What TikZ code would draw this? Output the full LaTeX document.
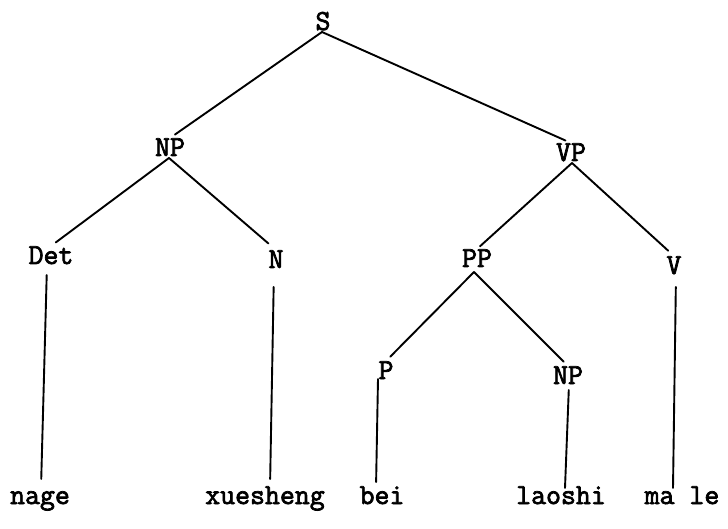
\documentclass[tikz,border=0pt]{standalone}
\usepackage{fontspec}
\newfontfamily\treefont{Latin Modern Mono}[FakeBold=2.5]
\begin{document}
\begin{tikzpicture}[x=1pt,y=-1pt,
  lab/.style={font=\treefont\fontsize{29}{32}\selectfont, inner sep=0pt, outer sep=0pt, anchor=base, text height=18pt, text depth=0pt},
  leaf/.style={lab, text height=16pt, text depth=6pt},
  branch/.style={line width=1.9pt, line cap=round, shorten >=6pt},
  stem/.style={line width=1.9pt, line cap=round}]
\useasboundingbox[fill=white] (0,0) rectangle (728,529);
% labels
\node[lab] (S)   at (323,30)  {S};
\node[lab] (NP)  at (170,156) {NP};
\node[lab] (VP)  at (571,161) {VP};
\node[lab] (Det) at (51,264)  {Det};
\node[lab] (N)   at (276,268) {N};
\node[lab] (PP)  at (477,267) {PP};
\node[lab] (V)   at (674,274) {V};
\node[lab] (P)   at (386,379) {P};
\node[lab] (NPb) at (568,384) {NP};
% leaves
\node[leaf] (nage)  at (40,504)  {nage};
\node[leaf] (xue)   at (265,504) {xuesheng};
\node[leaf] (bei)   at (382,504) {bei};
\node[leaf] (lao)   at (561,504) {laoshi};
\node[leaf] (male)  at (682,504) {ma le};
% branches
\draw[branch] ([xshift=-1pt,yshift=-2pt]S.south) -- (NP.north);
\draw[branch] ([xshift=-1pt,yshift=-2pt]S.south) -- (VP.north);
\draw[branch] ([xshift=-1pt,yshift=-2pt]NP.south) -- (Det.north);
\draw[branch, shorten >=10pt] ([xshift=-1pt,yshift=-2pt]NP.south) -- (N.north);
\draw[branch, shorten >=4pt] ([xshift=1pt,yshift=-2pt]VP.south) -- (PP.north);
\draw[branch, shorten >=8pt] ([xshift=1pt,yshift=-2pt]VP.south) -- (V.north);
\draw[branch] ([xshift=-3pt,yshift=-5pt]PP.south) -- (P.north);
\draw[branch] ([xshift=-3pt,yshift=-5pt]PP.south) -- (NPb.north);
% stems
\draw[stem, shorten <=11pt, shorten >=9pt] ([xshift=-4pt]Det.south) -- ([xshift=1pt]nage.north);
\draw[stem, shorten <=19pt, shorten >=9pt] ([xshift=-2pt]N.south) -- ([xshift=5pt]xue.north);
\draw[stem, shorten >=6pt] ([xshift=-8pt]P.south) -- ([xshift=-6pt]bei.north);
\draw[stem, shorten <=6pt] ([xshift=1pt]NPb.south) -- ([xshift=4pt]lao.north);
\draw[stem, shorten <=13pt] ([xshift=2pt]V.south) -- ([xshift=-9pt]male.north);
\end{tikzpicture}
\end{document}
